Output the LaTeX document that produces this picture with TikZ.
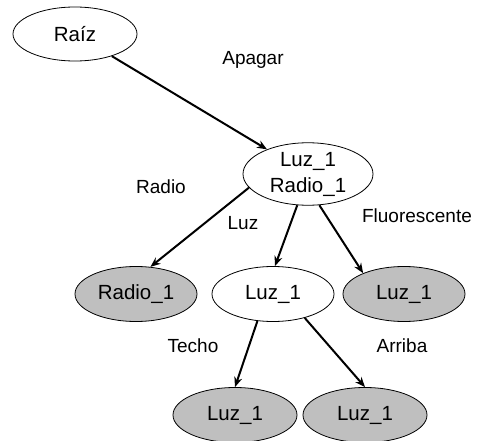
\documentclass[tikz,border=0pt]{standalone}
\usepackage{fontspec}
\setmainfont{Liberation Sans}
\usetikzlibrary{shapes.geometric,arrows.meta}
\definecolor{leafgray}{RGB}{191,191,191}
\begin{document}
\begin{tikzpicture}[x=1pt,y=-1pt,
  every node/.style={font=\fontsize{19}{25}\selectfont},
  state/.style={ellipse,draw=black,line width=0.8pt,inner sep=0pt,font=\fontsize{20.5}{26}\selectfont},
  leaf/.style={state,fill=leafgray},
  open/.style={state,fill=white},
  arr/.style={-{Stealth[length=10pt,width=8pt]},line width=2pt},
  lbl/.style={inner sep=0pt}]
\useasboundingbox (0,0) rectangle (482,441);
\node[open,minimum width=124pt,minimum height=54pt] (raiz) at (75,34) {Raíz};
\node[open,minimum width=130pt,minimum height=60pt,align=center] (top) at (308,174) {Luz\_1\\Radio\_1};
\node[leaf,minimum width=122pt,minimum height=55pt] (r1) at (136,294) {Radio\_1};
\node[open,minimum width=122pt,minimum height=55pt] (m) at (273,294) {Luz\_1};
\node[leaf,minimum width=122pt,minimum height=55pt] (g) at (404,294) {Luz\_1};
\node[leaf,minimum width=124pt,minimum height=55pt] (b1) at (235,415) {Luz\_1};
\node[leaf,minimum width=124pt,minimum height=55pt] (b2) at (365,415) {Luz\_1};
\node[lbl] (lapagar) at (253,60) {Apagar};
\node[lbl] (lradio) at (161,187) {Radio};
\node[lbl] (lluz) at (243,223) {Luz};
\node[lbl] (lfluo) at (417,216) {Fluorescente};
\node[lbl] (ltecho) at (193,346) {Techo};
\node[lbl] (larriba) at (402,346) {Arriba};
\draw[arr] (raiz) -- (top);
\draw[arr] (top.193) -- (r1.62);
\draw[arr] (top.251) -- (m.86);
\draw[arr] (top.290) -- (g.153);
\draw[arr] (m.240) -- (b1.90);
\draw[arr] (m.323) -- (b2.90);
\end{tikzpicture}
\end{document}
